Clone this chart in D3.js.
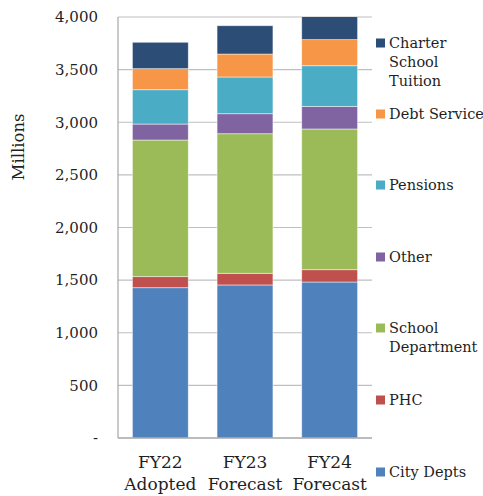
<!DOCTYPE html>
<html><head><meta charset="utf-8">
<script src="https://cdn.jsdelivr.net/npm/d3@7"></script>
<style>body{margin:0;background:#fff}svg text{font-family:"DejaVu Serif",serif;fill:#1f1f1f}</style>
</head><body><svg id="c" width="483" height="496"></svg>
<script>
const categories = ["FY22\nAdopted", "FY23\nForecast", "FY24\nForecast"];
const seriesNames = ["City Depts", "PHC", "School Department", "Other", "Pensions", "Debt Service", "Charter School Tuition"];
const cityDepts   = [1428, 1454, 1482];
const phc         = [105, 111, 117];
const schoolDept  = [1298, 1326, 1337];
const other       = [152, 190, 215];
const pensions    = [326, 349, 386];
const debtService = [200, 218, 248];
const charter     = [251, 269, 225];
const colors = ["#4F81BD", "#C0504D", "#9BBB59", "#8064A2", "#4BACC6", "#F79646", "#2C4D75"];
const yTicks = [0, 500, 1000, 1500, 2000, 2500, 3000, 3500, 4000];
const legendLabels = [["City Depts"], ["PHC"], ["School", "Department"], ["Other"], ["Pensions"], ["Debt Service"], ["Charter", "School", "Tuition"]];

const seriesValues = [cityDepts, phc, schoolDept, other, pensions, debtService, charter];
const rows = categories.map((c, i) => {
  const r = {cat: c};
  seriesNames.forEach((s, k) => r[s] = seriesValues[k][i]);
  return r;
});
const stack = d3.stack().keys(seriesNames)(rows);

const svg = d3.select("#c");
const m = {l: 118, r: 372, t: 17, b: 438};
const x = d3.scaleBand().domain(categories).range([m.l, m.r]).paddingInner(0.34).paddingOuter(0.17);
const y = d3.scaleLinear().domain([0, 4000]).range([m.b, m.t]);

svg.append("defs").append("clipPath").attr("id", "pc")
  .append("rect").attr("x", m.l).attr("y", m.t).attr("width", m.r - m.l).attr("height", m.b - m.t);

// gridlines
svg.append("g").selectAll("line").data(yTicks.filter(t => t > 0)).join("line")
  .attr("x1", m.l).attr("x2", m.r).attr("y1", d => y(d)).attr("y2", d => y(d))
  .attr("stroke", "#bfbfbf").attr("stroke-width", 1.2);

// bars
svg.append("g").attr("clip-path", "url(#pc)").selectAll("g").data(stack).join("g")
  .attr("fill", (d, i) => colors[i])
  .selectAll("rect").data(d => d).join("rect")
  .attr("x", d => x(d.data.cat)).attr("width", x.bandwidth())
  .attr("y", d => y(d[1])).attr("height", d => y(d[0]) - y(d[1]))
  .attr("stroke", "#ffffff").attr("stroke-opacity", 0.6).attr("stroke-width", 0.8);

// axes lines
svg.append("line").attr("x1", m.l).attr("x2", m.l).attr("y1", m.t).attr("y2", m.b)
  .attr("stroke", "#a6a6a6").attr("stroke-width", 1.2);
svg.append("line").attr("x1", m.l).attr("x2", m.r).attr("y1", m.b).attr("y2", m.b)
  .attr("stroke", "#a6a6a6").attr("stroke-width", 1.5);

// y labels
const fmt = d3.format(",");
svg.append("g").selectAll("text").data(yTicks).join("text")
  .attr("x", 98).attr("y", d => y(d)).attr("dy", "0.35em").attr("text-anchor", "end")
  .attr("font-size", 15).text(d => d === 0 ? "-" : fmt(d));

svg.append("text").attr("transform", "translate(24,147) rotate(-90)")
  .attr("text-anchor", "middle").attr("font-size", 16.5).text("Millions");

// x labels
svg.append("g").selectAll("text").data(categories).join("text")
  .attr("x", d => x(d) + x.bandwidth() / 2).attr("y", 468).attr("text-anchor", "middle")
  .attr("font-size", 17)
  .selectAll("tspan").data(d => d.split("\n")).join("tspan")
  .attr("x", function() { return this.parentNode.getAttribute("x"); })
  .attr("dy", (d, i) => i === 0 ? 0 : 22).text(d => d);

// legend
const legendY = [472, 400, 328, 257, 185, 114, 43];
const lg = svg.append("g");
legendLabels.forEach((lines, i) => {
  lg.append("rect").attr("x", 376).attr("y", legendY[i] - 4.5).attr("width", 9).attr("height", 9).attr("fill", colors[i]);
  lines.forEach((t, j) => {
    lg.append("text").attr("x", 389).attr("y", legendY[i] + j * 19).attr("dy", "0.35em")
      .attr("font-size", 14.5).text(t);
  });
});
</script></body></html>
